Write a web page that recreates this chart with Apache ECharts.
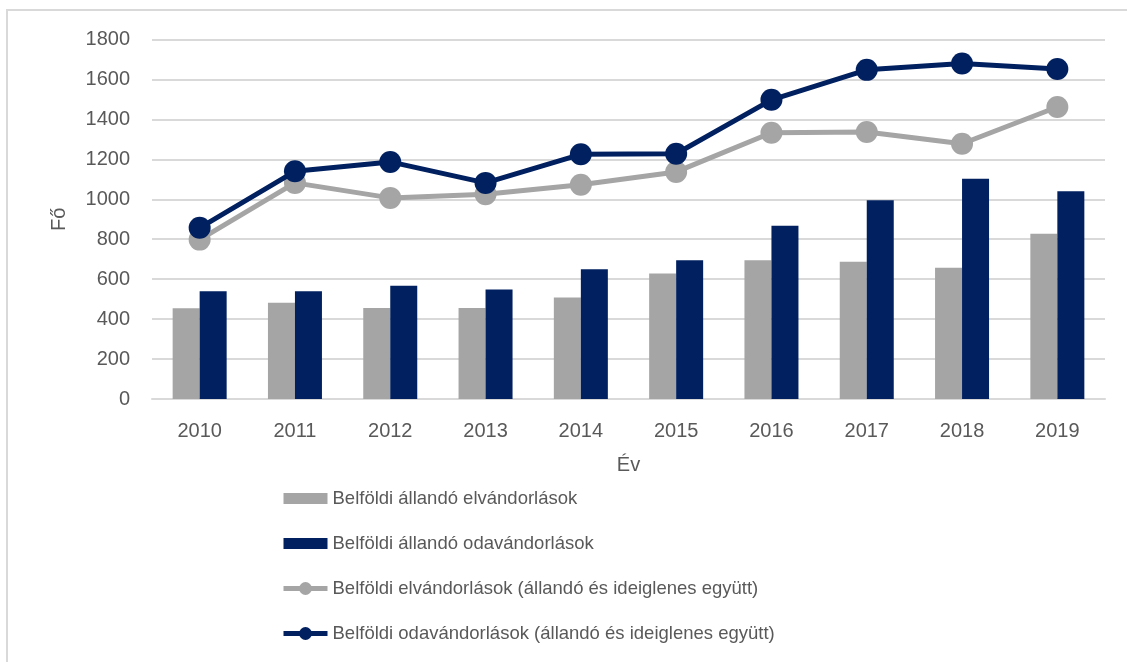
<!DOCTYPE html>
<html>
<head>
<meta charset="utf-8">
<script src="https://cdn.jsdelivr.net/npm/echarts@6/dist/echarts.min.js"></script>
<style>html,body{margin:0;padding:0;background:#fff}#c{width:1127px;height:662px}</style>
</head>
<body>
<div id="c"></div>
<script>
var years = ['2010','2011','2012','2013','2014','2015','2016','2017','2018','2019'];
var allandoEl = [455, 482, 456, 456, 508, 628, 695, 687, 657, 828];
var allandoOda = [540, 540, 567, 548, 650, 695, 867, 995, 1103, 1040];
var osszesEl = [798, 1082, 1007, 1025, 1073, 1137, 1333, 1337, 1278, 1462];
var osszesOda = [857, 1140, 1187, 1082, 1225, 1228, 1498, 1648, 1680, 1652];
var yTicks = [0, 200, 400, 600, 800, 1000, 1200, 1400, 1600, 1800];
var names = ['Belföldi állandó elvándorlások', 'Belföldi állandó odavándorlások',
  'Belföldi elvándorlások (állandó és ideiglenes együtt)', 'Belföldi odavándorlások (állandó és ideiglenes együtt)'];

var GRAY = '#A5A5A5', BLUE = '#002060', TXT = '#595959', FONT = 'Liberation Sans';
var barIcon = 'path://M0,0M0,2.5h44v11h-44zM0,16';
var chart = echarts.init(document.getElementById('c'), null, {renderer: 'canvas'});
chart.setOption({
  animation: false,
  backgroundColor: '#fff',
  textStyle: {fontFamily: FONT, color: TXT},
  graphic: [{type: 'rect', shape: {x: 7, y: 10, width: 1200, height: 800},
    style: {fill: 'none', stroke: '#d9d9d9', lineWidth: 2}, silent: true}],
  grid: {left: 152, right: 22, top: 39.5, bottom: 263, containLabel: false},
  legend: {
    orient: 'vertical', left: 276, top: 484, height: 190,
    itemWidth: 44, itemHeight: 16, itemGap: 26,
    textStyle: {fontFamily: FONT, fontSize: 18.5, color: TXT},
    lineStyle: {width: 5},
    data: [
      {name: names[0], icon: barIcon},
      {name: names[1], icon: barIcon},
      {name: names[2]},
      {name: names[3]}
    ]
  },
  xAxis: {
    type: 'category', data: years,
    name: 'Év', nameLocation: 'middle', nameGap: 56,
    nameTextStyle: {fontFamily: FONT, fontSize: 20, color: TXT},
    axisLine: {lineStyle: {color: '#d9d9d9', width: 2}},
    axisTick: {show: false},
    axisLabel: {fontFamily: FONT, fontSize: 20, color: TXT, margin: 22}
  },
  yAxis: {
    type: 'value', min: yTicks[0], max: yTicks[yTicks.length - 1], interval: 200,
    name: 'Fő', nameLocation: 'middle', nameGap: 83, nameRotate: 90,
    nameTextStyle: {fontFamily: FONT, fontSize: 20, color: TXT},
    axisLine: {show: false}, axisTick: {show: false},
    axisLabel: {fontFamily: FONT, fontSize: 20, color: TXT, margin: 22,
      formatter: function (v) { return String(v); }},
    splitLine: {lineStyle: {color: '#d9d9d9', width: 2}}
  },
  series: [
    {name: names[0], type: 'bar', data: allandoEl, barWidth: 27, barGap: '0%',
      itemStyle: {color: GRAY}},
    {name: names[1], type: 'bar', data: allandoOda, barWidth: 27, barGap: '0%',
      itemStyle: {color: BLUE}},
    {name: names[2], type: 'line', data: osszesEl, symbol: 'circle', symbolSize: 22,
      lineStyle: {color: GRAY, width: 5}, itemStyle: {color: GRAY}, z: 3},
    {name: names[3], type: 'line', data: osszesOda, symbol: 'circle', symbolSize: 22,
      lineStyle: {color: BLUE, width: 5}, itemStyle: {color: BLUE}, z: 4}
  ]
});
</script>
</body>
</html>
